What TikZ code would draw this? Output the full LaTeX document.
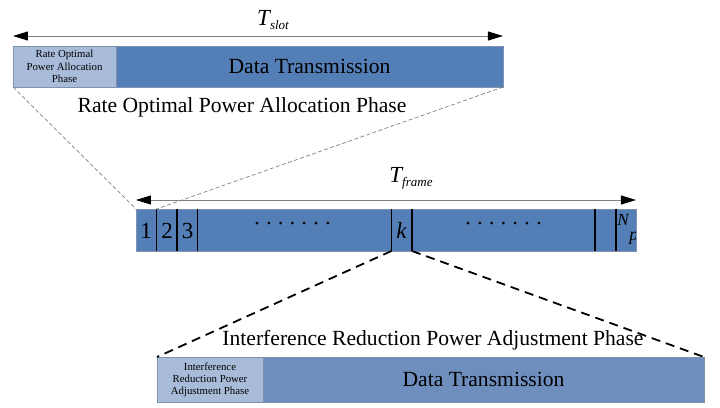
\documentclass[tikz,border=0pt]{standalone}
\usepackage{fontspec}
\setmainfont{Liberation Serif}
\usetikzlibrary{arrows.meta}

\definecolor{barblue}{RGB}{84,126,182}
\definecolor{lowblue}{RGB}{110,142,190}
\definecolor{paleblue}{RGB}{168,188,218}
\definecolor{edgeblue}{RGB}{128,146,176}

\tikzset{
  block/.style={draw=edgeblue, line width=0.4pt},
  phasetext/.style={align=center, font=\fontsize{5.4}{6.4}\selectfont},
  bigtext/.style={font=\fontsize{10.8}{12}\selectfont},
  dimline/.style={draw=gray, line width=0.5pt,
    {Triangle[color=black, length=7.5pt, width=4.5pt]}-{Triangle[color=black, length=7.5pt, width=4.5pt]}},
  zoomthin/.style={draw=gray, line width=0.35pt, dash pattern=on 2pt off 1.2pt},
  zoomthick/.style={draw=black, line width=0.9pt, dash pattern=on 4.5pt off 3pt},
}

\newcommand{\durlabel}[1]{\fontsize{11.5}{12}\selectfont\itshape T\raisebox{-2pt}{\fontsize{6.5}{7}\selectfont #1}}

\begin{document}
\begin{tikzpicture}[x=0.5pt, y=-0.5pt, every node/.style={inner sep=0pt, outer sep=0pt}]
  \useasboundingbox (0,0) rectangle (720,408);

  % Slot: allocation phase + data transmission
  \node[block, fill=paleblue, minimum width=51.5pt, minimum height=20.5pt, phasetext]
    (slotphase) at (64.5,66.5) {Rate Optimal\\Power Allocation\\Phase};
  \node[block, fill=barblue, minimum width=193.5pt, minimum height=20.5pt, bigtext]
    (slotdata) at (309.5,66.5) {Data Transmission};
  \draw[dimline] ([yshift=5pt]slotphase.north west) -- ([yshift=5pt]slotdata.north east);
  \node (slotlabel) at (273,20) {\durlabel{slot}};

  % Frame of slots
  \node[block, fill=barblue, minimum width=250pt, minimum height=21pt]
    (framebar) at (386,230) {};
  \foreach \x [count=\n] in {156.5,177,197.5,391.5,412,595,616} {
    \coordinate (top\n) at (\x,209);
    \coordinate (bot\n) at (\x,251);
    \draw[black, line width=0.65pt] (top\n) -- (bot\n);
  }
  \draw[dimline] ([yshift=4.5pt]framebar.north west) -- ([yshift=4.5pt]framebar.north east);
  \node (framelabel) at (411,178) {\durlabel{frame}};

  % Slot numbers
  \foreach \lbl/\x in {1/146,2/167,3/187.5} {
    \node[font=\fontsize{11.5}{12}\selectfont] (num\lbl) at (\x,231) {\lbl};
  }
  \node[font=\fontsize{11.5}{12}\selectfont\itshape] (numk) at (401.5,231) {k};
  \foreach \x in {257,468} {
    \foreach \i in {0,...,6}
      \fill[black] (\x+\i*11.8,223) circle (0.75pt);
  }
  \begin{scope}
    \clip (framebar.north west) rectangle (framebar.south east);
    \node[font=\fontsize{8.5}{9}\selectfont\itshape] (numN) at (623,220) {N};
    \node[font=\fontsize{9}{9}\selectfont\itshape] (nump) at (634,238) {p};
  \end{scope}

  % Zoom lines
  \draw[zoomthin] (slotphase.south west) -- (framebar.north west);
  \draw[zoomthin] (slotdata.south east) -- (top1);

  % Slot k: adjustment phase + data transmission
  \node[block, fill=paleblue, minimum width=53pt, minimum height=22.5pt, phasetext,
    font=\fontsize{5.4}{6}\selectfont]
    (adjphase) at (210,379.5) {Interference\\Reduction Power\\Adjustment Phase};
  \node[block, fill=lowblue, minimum width=220.5pt, minimum height=22.5pt, bigtext]
    (adjdata) at (483.5,379.5) {Data Transmission};
  \draw[zoomthick] (bot4) -- (adjphase.north west);
  \draw[zoomthick] (bot5) -- (adjdata.north east);

  % Phase captions
  \node[bigtext] (slotcaption) at (242,107) {Rate Optimal Power Allocation Phase};
  \node[bigtext] (adjcaption) at (433,340) {Interference Reduction Power Adjustment Phase};
\end{tikzpicture}
\end{document}
